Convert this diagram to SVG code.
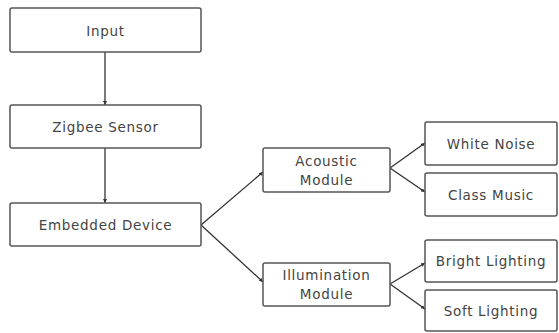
<svg xmlns="http://www.w3.org/2000/svg" width="559" height="333" viewBox="0 0 559 333">
  <defs>
    <marker id="arr" viewBox="0 0 6 6" refX="6" refY="3" markerWidth="4" markerHeight="4" orient="auto" markerUnits="userSpaceOnUse">
      <path d="M0,0 L6,3 L0,6 Z" fill="#333"/>
    </marker>
  </defs>
  <style>
    .box { fill: #fff; stroke: #555; stroke-width: 1.5; }
    .lbl { font-family: "DejaVu Sans", "Noto Sans CJK KR", sans-serif; font-size: 13.5px; letter-spacing: 0.7px; fill: #444; text-anchor: middle; dominant-baseline: central; }
    .edge { fill: none; stroke: #333; stroke-width: 1.3; marker-end: url(#arr); }
  </style>
  <rect width="559" height="333" fill="#fff"/>

  <g id="connectors">
    <line class="edge" x1="105" y1="52" x2="105" y2="105"/>
    <line class="edge" x1="105" y1="148" x2="105" y2="203"/>
    <line class="edge" x1="201" y1="225" x2="263" y2="172"/>
    <line class="edge" x1="201" y1="225" x2="263" y2="282"/>
    <line class="edge" x1="390" y1="168" x2="425" y2="143"/>
    <line class="edge" x1="390" y1="168" x2="425" y2="192"/>
    <line class="edge" x1="390" y1="284" x2="425" y2="263"/>
    <line class="edge" x1="390" y1="284" x2="425" y2="309"/>
  </g>

  <g id="input">
    <rect class="box" x="10" y="8" width="191" height="44" rx="2"/>
    <text class="lbl" x="105.5" y="31">Input</text>
  </g>
  <g id="zigbee-sensor">
    <rect class="box" x="10" y="105" width="191" height="43" rx="2"/>
    <text class="lbl" x="105.5" y="127">Zigbee Sensor</text>
  </g>
  <g id="embedded-device">
    <rect class="box" x="10" y="203" width="191" height="43" rx="2"/>
    <text class="lbl" x="105.5" y="225">Embedded Device</text>
  </g>
  <g id="acoustic-module">
    <rect class="box" x="263" y="148" width="127" height="44" rx="2"/>
    <text class="lbl" x="326.5" y="161">Acoustic</text>
    <text class="lbl" x="326.5" y="180">Module</text>
  </g>
  <g id="illumination-module">
    <rect class="box" x="263" y="263" width="127" height="43" rx="2"/>
    <text class="lbl" x="326.5" y="275">Illumination</text>
    <text class="lbl" x="326.5" y="294">Module</text>
  </g>
  <g id="white-noise">
    <rect class="box" x="425" y="122" width="132" height="43" rx="2"/>
    <text class="lbl" x="491" y="144">White Noise</text>
  </g>
  <g id="class-music">
    <rect class="box" x="425" y="173" width="132" height="43" rx="2"/>
    <text class="lbl" x="491" y="195">Class Music</text>
  </g>
  <g id="bright-lighting">
    <rect class="box" x="425" y="240" width="132" height="42" rx="2"/>
    <text class="lbl" x="491" y="261">Bright Lighting</text>
  </g>
  <g id="soft-lighting">
    <rect class="box" x="425" y="290" width="132" height="41" rx="2"/>
    <text class="lbl" x="491" y="311">Soft Lighting</text>
  </g>
</svg>
